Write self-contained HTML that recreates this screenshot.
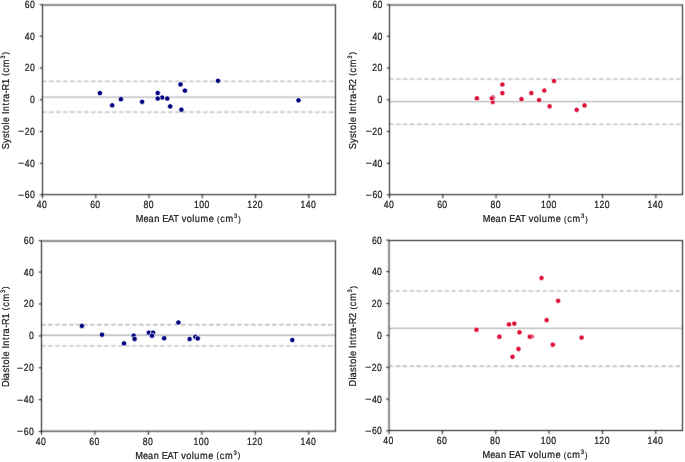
<!DOCTYPE html>
<html><head><meta charset="utf-8"><title>Bland-Altman plots</title>
<style>
html,body{margin:0;padding:0;background:#fff;}
svg{display:block;will-change:transform;}
text{font-family:"Liberation Sans",sans-serif;fill:#1a1a1a;text-rendering:geometricPrecision;}
</style></head>
<body>
<svg width="685" height="462" viewBox="0 0 685 462">
<defs><filter id="bl" x="0" y="0" width="100%" height="100%" filterUnits="userSpaceOnUse"><feConvolveMatrix order="3" kernelMatrix="1 4 1 4 16 4 1 4 1" edgeMode="none"/></filter></defs>
<rect x="0" y="0" width="685" height="462" fill="#fff"/>
<g filter="url(#bl)">
<line x1="42.5" y1="97.15" x2="335.5" y2="97.15" stroke="#b4b4b4" stroke-width="1.3"/>
<line x1="42.5" y1="81.35000000000001" x2="335.5" y2="81.35000000000001" stroke="#b4b4b4" stroke-width="1.3" stroke-dasharray="4.6 2.4" stroke-dashoffset="0.5"/>
<line x1="42.5" y1="112.05000000000001" x2="335.5" y2="112.05000000000001" stroke="#b4b4b4" stroke-width="1.3" stroke-dasharray="4.6 2.4" stroke-dashoffset="0.5"/>
<line x1="389.5" y1="101.65" x2="682.5" y2="101.65" stroke="#b4b4b4" stroke-width="1.3"/>
<line x1="389.5" y1="79.05000000000001" x2="682.5" y2="79.05000000000001" stroke="#b4b4b4" stroke-width="1.3" stroke-dasharray="4.6 2.4" stroke-dashoffset="0.5"/>
<line x1="389.5" y1="124.45" x2="682.5" y2="124.45" stroke="#b4b4b4" stroke-width="1.3" stroke-dasharray="4.6 2.4" stroke-dashoffset="0.5"/>
<line x1="41.5" y1="335.25" x2="335.5" y2="335.25" stroke="#b4b4b4" stroke-width="1.3"/>
<line x1="41.5" y1="324.75" x2="335.5" y2="324.75" stroke="#b4b4b4" stroke-width="1.3" stroke-dasharray="4.6 2.4" stroke-dashoffset="0.5"/>
<line x1="41.5" y1="345.84999999999997" x2="335.5" y2="345.84999999999997" stroke="#b4b4b4" stroke-width="1.3" stroke-dasharray="4.6 2.4" stroke-dashoffset="0.5"/>
<line x1="389.0" y1="328.45" x2="682.5" y2="328.45" stroke="#b4b4b4" stroke-width="1.3"/>
<line x1="389.0" y1="290.95" x2="682.5" y2="290.95" stroke="#b4b4b4" stroke-width="1.3" stroke-dasharray="4.6 2.4" stroke-dashoffset="0.5"/>
<line x1="389.0" y1="366.25" x2="682.5" y2="366.25" stroke="#b4b4b4" stroke-width="1.3" stroke-dasharray="4.6 2.4" stroke-dashoffset="0.5"/>
</g>
<g>
<circle cx="99.9" cy="93.1" r="2.6" fill="#000080" stroke="#fff" stroke-width="0.7"/>
<circle cx="112.2" cy="105.3" r="2.6" fill="#000080" stroke="#fff" stroke-width="0.7"/>
<circle cx="120.9" cy="99.2" r="2.6" fill="#000080" stroke="#fff" stroke-width="0.7"/>
<circle cx="142.1" cy="101.8" r="2.6" fill="#000080" stroke="#fff" stroke-width="0.7"/>
<circle cx="157.7" cy="93.0" r="2.6" fill="#000080" stroke="#fff" stroke-width="0.7"/>
<circle cx="162.2" cy="97.5" r="2.6" fill="#000080" stroke="#fff" stroke-width="0.7"/>
<circle cx="157.7" cy="98.5" r="2.6" fill="#000080" stroke="#fff" stroke-width="0.7"/>
<circle cx="167.3" cy="98.5" r="2.6" fill="#000080" stroke="#fff" stroke-width="0.7"/>
<circle cx="170.2" cy="106.4" r="2.6" fill="#000080" stroke="#fff" stroke-width="0.7"/>
<circle cx="180.5" cy="84.4" r="2.6" fill="#000080" stroke="#fff" stroke-width="0.7"/>
<circle cx="184.9" cy="90.6" r="2.6" fill="#000080" stroke="#fff" stroke-width="0.7"/>
<circle cx="181.4" cy="109.7" r="2.6" fill="#000080" stroke="#fff" stroke-width="0.7"/>
<circle cx="218.0" cy="80.8" r="2.6" fill="#000080" stroke="#fff" stroke-width="0.7"/>
<circle cx="298.5" cy="100.3" r="2.6" fill="#000080" stroke="#fff" stroke-width="0.7"/>
<circle cx="476.9" cy="98.3" r="2.6" fill="#dc143c" stroke="#fff" stroke-width="0.7"/>
<circle cx="492.8" cy="97.3" r="2.6" fill="#dc143c" stroke="#fff" stroke-width="0.7"/>
<circle cx="492.7" cy="101.9" r="2.6" fill="#dc143c" stroke="#fff" stroke-width="0.7"/>
<circle cx="491.9" cy="98.3" r="2.6" fill="#dc143c" stroke="#fff" stroke-width="0.7"/>
<circle cx="502.4" cy="84.5" r="2.6" fill="#dc143c" stroke="#fff" stroke-width="0.7"/>
<circle cx="502.4" cy="93.1" r="2.6" fill="#dc143c" stroke="#fff" stroke-width="0.7"/>
<circle cx="521.5" cy="99.2" r="2.6" fill="#dc143c" stroke="#fff" stroke-width="0.7"/>
<circle cx="531.3" cy="93.1" r="2.6" fill="#dc143c" stroke="#fff" stroke-width="0.7"/>
<circle cx="539.1" cy="100.1" r="2.6" fill="#dc143c" stroke="#fff" stroke-width="0.7"/>
<circle cx="544.3" cy="90.5" r="2.6" fill="#dc143c" stroke="#fff" stroke-width="0.7"/>
<circle cx="549.6" cy="106.3" r="2.6" fill="#dc143c" stroke="#fff" stroke-width="0.7"/>
<circle cx="554.0" cy="81.0" r="2.6" fill="#dc143c" stroke="#fff" stroke-width="0.7"/>
<circle cx="576.7" cy="109.8" r="2.6" fill="#dc143c" stroke="#fff" stroke-width="0.7"/>
<circle cx="584.5" cy="105.4" r="2.6" fill="#dc143c" stroke="#fff" stroke-width="0.7"/>
<circle cx="81.9" cy="325.9" r="2.6" fill="#000080" stroke="#fff" stroke-width="0.7"/>
<circle cx="102.0" cy="334.7" r="2.6" fill="#000080" stroke="#fff" stroke-width="0.7"/>
<circle cx="124.0" cy="343.4" r="2.6" fill="#000080" stroke="#fff" stroke-width="0.7"/>
<circle cx="133.7" cy="335.7" r="2.6" fill="#000080" stroke="#fff" stroke-width="0.7"/>
<circle cx="134.6" cy="338.9" r="2.6" fill="#000080" stroke="#fff" stroke-width="0.7"/>
<circle cx="148.8" cy="332.7" r="2.6" fill="#000080" stroke="#fff" stroke-width="0.7"/>
<circle cx="153.0" cy="332.7" r="2.6" fill="#000080" stroke="#fff" stroke-width="0.7"/>
<circle cx="152.0" cy="335.7" r="2.6" fill="#000080" stroke="#fff" stroke-width="0.7"/>
<circle cx="164.2" cy="338.2" r="2.6" fill="#000080" stroke="#fff" stroke-width="0.7"/>
<circle cx="178.4" cy="322.5" r="2.6" fill="#000080" stroke="#fff" stroke-width="0.7"/>
<circle cx="189.6" cy="339.0" r="2.6" fill="#000080" stroke="#fff" stroke-width="0.7"/>
<circle cx="195.4" cy="336.9" r="2.6" fill="#000080" stroke="#fff" stroke-width="0.7"/>
<circle cx="197.7" cy="338.4" r="2.6" fill="#000080" stroke="#fff" stroke-width="0.7"/>
<circle cx="292.3" cy="340.0" r="2.6" fill="#000080" stroke="#fff" stroke-width="0.7"/>
<circle cx="476.5" cy="329.7" r="2.6" fill="#dc143c" stroke="#fff" stroke-width="0.7"/>
<circle cx="499.4" cy="336.7" r="2.6" fill="#dc143c" stroke="#fff" stroke-width="0.7"/>
<circle cx="509.0" cy="324.4" r="2.6" fill="#dc143c" stroke="#fff" stroke-width="0.7"/>
<circle cx="514.3" cy="323.6" r="2.6" fill="#dc143c" stroke="#fff" stroke-width="0.7"/>
<circle cx="519.5" cy="332.3" r="2.6" fill="#dc143c" stroke="#fff" stroke-width="0.7"/>
<circle cx="531.6" cy="336.5" r="2.6" fill="#dc143c" stroke="#fff" stroke-width="0.7"/>
<circle cx="529.9" cy="336.7" r="2.6" fill="#dc143c" stroke="#fff" stroke-width="0.7"/>
<circle cx="518.5" cy="348.9" r="2.6" fill="#dc143c" stroke="#fff" stroke-width="0.7"/>
<circle cx="512.5" cy="356.8" r="2.6" fill="#dc143c" stroke="#fff" stroke-width="0.7"/>
<circle cx="541.5" cy="278.0" r="2.6" fill="#dc143c" stroke="#fff" stroke-width="0.7"/>
<circle cx="558.1" cy="300.8" r="2.6" fill="#dc143c" stroke="#fff" stroke-width="0.7"/>
<circle cx="546.6" cy="320.1" r="2.6" fill="#dc143c" stroke="#fff" stroke-width="0.7"/>
<circle cx="552.8" cy="344.7" r="2.6" fill="#dc143c" stroke="#fff" stroke-width="0.7"/>
<circle cx="581.6" cy="337.6" r="2.6" fill="#dc143c" stroke="#fff" stroke-width="0.7"/>
</g>
<g filter="url(#bl)">
<rect x="42.5" y="5.0" width="293.00" height="189.60" fill="none" stroke="#111" stroke-width="1.0"/>
<line x1="39.80" y1="194.83" x2="42.5" y2="194.83" stroke="#111" stroke-width="1.0"/>
<line x1="39.80" y1="163.29" x2="42.5" y2="163.29" stroke="#111" stroke-width="1.0"/>
<line x1="39.80" y1="131.52" x2="42.5" y2="131.52" stroke="#111" stroke-width="1.0"/>
<line x1="39.80" y1="99.75" x2="42.5" y2="99.75" stroke="#111" stroke-width="1.0"/>
<line x1="39.80" y1="67.98" x2="42.5" y2="67.98" stroke="#111" stroke-width="1.0"/>
<line x1="39.80" y1="36.21" x2="42.5" y2="36.21" stroke="#111" stroke-width="1.0"/>
<line x1="39.80" y1="4.72" x2="42.5" y2="4.72" stroke="#111" stroke-width="1.0"/>
<line x1="42.50" y1="194.6" x2="42.50" y2="198.20" stroke="#111" stroke-width="1.0"/>
<line x1="95.77" y1="194.6" x2="95.77" y2="198.20" stroke="#111" stroke-width="1.0"/>
<line x1="149.05" y1="194.6" x2="149.05" y2="198.20" stroke="#111" stroke-width="1.0"/>
<line x1="202.32" y1="194.6" x2="202.32" y2="198.20" stroke="#111" stroke-width="1.0"/>
<line x1="255.59" y1="194.6" x2="255.59" y2="198.20" stroke="#111" stroke-width="1.0"/>
<line x1="308.86" y1="194.6" x2="308.86" y2="198.20" stroke="#111" stroke-width="1.0"/>
<rect x="389.5" y="5.0" width="293.00" height="189.60" fill="none" stroke="#111" stroke-width="1.0"/>
<line x1="386.80" y1="194.83" x2="389.5" y2="194.83" stroke="#111" stroke-width="1.0"/>
<line x1="386.80" y1="163.29" x2="389.5" y2="163.29" stroke="#111" stroke-width="1.0"/>
<line x1="386.80" y1="131.52" x2="389.5" y2="131.52" stroke="#111" stroke-width="1.0"/>
<line x1="386.80" y1="99.75" x2="389.5" y2="99.75" stroke="#111" stroke-width="1.0"/>
<line x1="386.80" y1="67.98" x2="389.5" y2="67.98" stroke="#111" stroke-width="1.0"/>
<line x1="386.80" y1="36.21" x2="389.5" y2="36.21" stroke="#111" stroke-width="1.0"/>
<line x1="386.80" y1="4.72" x2="389.5" y2="4.72" stroke="#111" stroke-width="1.0"/>
<line x1="389.50" y1="194.6" x2="389.50" y2="198.20" stroke="#111" stroke-width="1.0"/>
<line x1="442.77" y1="194.6" x2="442.77" y2="198.20" stroke="#111" stroke-width="1.0"/>
<line x1="496.05" y1="194.6" x2="496.05" y2="198.20" stroke="#111" stroke-width="1.0"/>
<line x1="549.32" y1="194.6" x2="549.32" y2="198.20" stroke="#111" stroke-width="1.0"/>
<line x1="602.59" y1="194.6" x2="602.59" y2="198.20" stroke="#111" stroke-width="1.0"/>
<line x1="655.86" y1="194.6" x2="655.86" y2="198.20" stroke="#111" stroke-width="1.0"/>
<rect x="41.5" y="241.0" width="294.00" height="190.20" fill="none" stroke="#111" stroke-width="1.0"/>
<line x1="38.80" y1="431.50" x2="41.5" y2="431.50" stroke="#111" stroke-width="1.0"/>
<line x1="38.80" y1="399.64" x2="41.5" y2="399.64" stroke="#111" stroke-width="1.0"/>
<line x1="38.80" y1="367.75" x2="41.5" y2="367.75" stroke="#111" stroke-width="1.0"/>
<line x1="38.80" y1="335.85" x2="41.5" y2="335.85" stroke="#111" stroke-width="1.0"/>
<line x1="38.80" y1="303.95" x2="41.5" y2="303.95" stroke="#111" stroke-width="1.0"/>
<line x1="38.80" y1="272.06" x2="41.5" y2="272.06" stroke="#111" stroke-width="1.0"/>
<line x1="38.80" y1="240.60" x2="41.5" y2="240.60" stroke="#111" stroke-width="1.0"/>
<line x1="41.50" y1="431.2" x2="41.50" y2="434.80" stroke="#111" stroke-width="1.0"/>
<line x1="94.95" y1="431.2" x2="94.95" y2="434.80" stroke="#111" stroke-width="1.0"/>
<line x1="148.41" y1="431.2" x2="148.41" y2="434.80" stroke="#111" stroke-width="1.0"/>
<line x1="201.86" y1="431.2" x2="201.86" y2="434.80" stroke="#111" stroke-width="1.0"/>
<line x1="255.32" y1="431.2" x2="255.32" y2="434.80" stroke="#111" stroke-width="1.0"/>
<line x1="308.77" y1="431.2" x2="308.77" y2="434.80" stroke="#111" stroke-width="1.0"/>
<rect x="389.0" y="240.5" width="293.50" height="190.00" fill="none" stroke="#111" stroke-width="1.0"/>
<line x1="386.30" y1="430.80" x2="389.0" y2="430.80" stroke="#111" stroke-width="1.0"/>
<line x1="386.30" y1="399.17" x2="389.0" y2="399.17" stroke="#111" stroke-width="1.0"/>
<line x1="386.30" y1="367.28" x2="389.0" y2="367.28" stroke="#111" stroke-width="1.0"/>
<line x1="386.30" y1="335.38" x2="389.0" y2="335.38" stroke="#111" stroke-width="1.0"/>
<line x1="386.30" y1="303.48" x2="389.0" y2="303.48" stroke="#111" stroke-width="1.0"/>
<line x1="386.30" y1="271.59" x2="389.0" y2="271.59" stroke="#111" stroke-width="1.0"/>
<line x1="386.30" y1="240.10" x2="389.0" y2="240.10" stroke="#111" stroke-width="1.0"/>
<line x1="389.00" y1="430.5" x2="389.00" y2="434.10" stroke="#111" stroke-width="1.0"/>
<line x1="442.36" y1="430.5" x2="442.36" y2="434.10" stroke="#111" stroke-width="1.0"/>
<line x1="495.73" y1="430.5" x2="495.73" y2="434.10" stroke="#111" stroke-width="1.0"/>
<line x1="549.09" y1="430.5" x2="549.09" y2="434.10" stroke="#111" stroke-width="1.0"/>
<line x1="602.45" y1="430.5" x2="602.45" y2="434.10" stroke="#111" stroke-width="1.0"/>
<line x1="655.82" y1="430.5" x2="655.82" y2="434.10" stroke="#111" stroke-width="1.0"/>
</g>
<g stroke="#1a1a1a" stroke-width="0.2" stroke-linejoin="round">
<text x="0" y="0" font-size="8.69" transform="matrix(1.216 0 0 0.95 18.09 197.79)">−</text>
<text x="24.81 30.02" y="198.31" font-size="8.69" transform="matrix(1 0 0 1.200 0 -39.66)">60</text>
<text x="0" y="0" font-size="8.69" transform="matrix(1.216 0 0 0.95 18.09 166.25)">−</text>
<text x="24.8 30.02" y="166.77" font-size="8.69" transform="matrix(1 0 0 1.200 0 -33.35)">40</text>
<text x="0" y="0" font-size="8.69" transform="matrix(1.216 0 0 0.95 18.09 134.48)">−</text>
<text x="24.7 30.02" y="135" font-size="8.69" transform="matrix(1 0 0 1.200 0 -27)">20</text>
<text x="30.02" y="103.23" font-size="8.69" transform="matrix(1 0 0 1.200 0 -20.65)">0</text>
<text x="24.7 30.02" y="71.46" font-size="8.69" transform="matrix(1 0 0 1.200 0 -14.29)">20</text>
<text x="24.8 30.02" y="39.69" font-size="8.69" transform="matrix(1 0 0 1.200 0 -7.94)">40</text>
<text x="24.81 30.02" y="8.2" font-size="8.69" transform="matrix(1 0 0 1.200 0 -1.64)">60</text>
<text x="36.87 42.09" y="208.4" font-size="8.69" transform="matrix(1 0 0 1.200 0 -41.68)">40</text>
<text x="90.15 95.36" y="208.4" font-size="8.69" transform="matrix(1 0 0 1.200 0 -41.68)">60</text>
<text x="143.42 148.63" y="208.4" font-size="8.69" transform="matrix(1 0 0 1.200 0 -41.68)">80</text>
<text x="194.04 199.3 204.52" y="208.4" font-size="8.69" transform="matrix(1 0 0 1.200 0 -41.68)">100</text>
<text x="247.31 252.46 257.79" y="208.4" font-size="8.69" transform="matrix(1 0 0 1.200 0 -41.68)">120</text>
<text x="300.58 305.84 311.06" y="208.4" font-size="8.69" transform="matrix(1 0 0 1.200 0 -41.68)">140</text>
<text font-size="9.22" transform="matrix(1 0 0 1.100 0 -22.23)"><tspan x="135.67 143.47 148.52 154.34 159.7 162.14 167.94 173.22 178.74 181.8 186.83 192.3 194.73 200.54 208.81 214.09" y="222.3">Mean EAT volume </tspan><tspan x="216.99" y="221.78" font-size="7.55">(</tspan><tspan x="220.29 225.56" y="222.3">cm</tspan><tspan x="234.01" y="218.75" font-size="5.87">3</tspan><tspan x="238.13" y="221.78" font-size="7.55">)</tspan></text>
<g transform="translate(8.8,100.30) rotate(-90)">
<text font-size="9.22" transform="matrix(1 0 0 1.100 0 0)"><tspan x="-48.89 -42.78 -37.82 -32.86 -29.72 -24.26 -21.87 -16.6 -13.8 -11 -5.24 -1.78 1.19 6.83 9.8 16.23 21.67" y="0">Systole Intra-R1 </tspan><tspan x="24.57" y="-0.52" font-size="7.55">(</tspan><tspan x="27.87 33.14" y="0">cm</tspan><tspan x="41.59" y="-3.55" font-size="5.87">3</tspan><tspan x="45.71" y="-0.52" font-size="7.55">)</tspan></text>
</g>
<text x="0" y="0" font-size="8.69" transform="matrix(1.216 0 0 0.95 365.69 197.79)">−</text>
<text x="372.41 377.62" y="198.31" font-size="8.69" transform="matrix(1 0 0 1.200 0 -39.66)">60</text>
<text x="0" y="0" font-size="8.69" transform="matrix(1.216 0 0 0.95 365.69 166.25)">−</text>
<text x="372.4 377.62" y="166.77" font-size="8.69" transform="matrix(1 0 0 1.200 0 -33.35)">40</text>
<text x="0" y="0" font-size="8.69" transform="matrix(1.216 0 0 0.95 365.69 134.48)">−</text>
<text x="372.3 377.62" y="135" font-size="8.69" transform="matrix(1 0 0 1.200 0 -27)">20</text>
<text x="377.62" y="103.23" font-size="8.69" transform="matrix(1 0 0 1.200 0 -20.65)">0</text>
<text x="372.3 377.62" y="71.46" font-size="8.69" transform="matrix(1 0 0 1.200 0 -14.29)">20</text>
<text x="372.4 377.62" y="39.69" font-size="8.69" transform="matrix(1 0 0 1.200 0 -7.94)">40</text>
<text x="372.41 377.62" y="8.2" font-size="8.69" transform="matrix(1 0 0 1.200 0 -1.64)">60</text>
<text x="383.87 389.09" y="208.3" font-size="8.69" transform="matrix(1 0 0 1.200 0 -41.66)">40</text>
<text x="437.15 442.36" y="208.3" font-size="8.69" transform="matrix(1 0 0 1.200 0 -41.66)">60</text>
<text x="490.42 495.63" y="208.3" font-size="8.69" transform="matrix(1 0 0 1.200 0 -41.66)">80</text>
<text x="541.04 546.3 551.52" y="208.3" font-size="8.69" transform="matrix(1 0 0 1.200 0 -41.66)">100</text>
<text x="594.31 599.46 604.79" y="208.3" font-size="8.69" transform="matrix(1 0 0 1.200 0 -41.66)">120</text>
<text x="647.58 652.84 658.06" y="208.3" font-size="8.69" transform="matrix(1 0 0 1.200 0 -41.66)">140</text>
<text font-size="9.22" transform="matrix(1 0 0 1.100 0 -22.23)"><tspan x="482.67 490.47 495.52 501.34 506.7 509.14 514.94 520.22 525.74 528.8 533.83 539.3 541.73 547.54 555.81 561.09" y="222.3">Mean EAT volume </tspan><tspan x="563.99" y="221.78" font-size="7.55">(</tspan><tspan x="567.29 572.56" y="222.3">cm</tspan><tspan x="581.01" y="218.75" font-size="5.87">3</tspan><tspan x="585.13" y="221.78" font-size="7.55">)</tspan></text>
<g transform="translate(355.9,100.30) rotate(-90)">
<text font-size="9.22" transform="matrix(1 0 0 1.100 0 0)"><tspan x="-48.89 -42.78 -37.82 -32.86 -29.72 -24.26 -21.87 -16.6 -13.8 -11 -5.24 -1.78 1.19 6.83 9.8 16.16 21.67" y="0">Systole Intra-R2 </tspan><tspan x="24.57" y="-0.52" font-size="7.55">(</tspan><tspan x="27.87 33.14" y="0">cm</tspan><tspan x="41.59" y="-3.55" font-size="5.87">3</tspan><tspan x="45.71" y="-0.52" font-size="7.55">)</tspan></text>
</g>
<text x="0" y="0" font-size="8.69" transform="matrix(1.216 0 0 0.95 17.09 434.46)">−</text>
<text x="23.81 29.02" y="434.98" font-size="8.69" transform="matrix(1 0 0 1.200 0 -87)">60</text>
<text x="0" y="0" font-size="8.69" transform="matrix(1.216 0 0 0.95 17.09 402.6)">−</text>
<text x="23.8 29.02" y="403.13" font-size="8.69" transform="matrix(1 0 0 1.200 0 -80.63)">40</text>
<text x="0" y="0" font-size="8.69" transform="matrix(1.216 0 0 0.95 17.09 370.71)">−</text>
<text x="23.7 29.02" y="371.23" font-size="8.69" transform="matrix(1 0 0 1.200 0 -74.25)">20</text>
<text x="29.02" y="339.33" font-size="8.69" transform="matrix(1 0 0 1.200 0 -67.87)">0</text>
<text x="23.7 29.02" y="307.44" font-size="8.69" transform="matrix(1 0 0 1.200 0 -61.49)">20</text>
<text x="23.8 29.02" y="275.54" font-size="8.69" transform="matrix(1 0 0 1.200 0 -55.11)">40</text>
<text x="23.81 29.02" y="244.08" font-size="8.69" transform="matrix(1 0 0 1.200 0 -48.82)">60</text>
<text x="35.87 41.09" y="445.3" font-size="8.69" transform="matrix(1 0 0 1.200 0 -89.06)">40</text>
<text x="89.33 94.54" y="445.3" font-size="8.69" transform="matrix(1 0 0 1.200 0 -89.06)">60</text>
<text x="142.78 148" y="445.3" font-size="8.69" transform="matrix(1 0 0 1.200 0 -89.06)">80</text>
<text x="193.58 198.84 204.06" y="445.3" font-size="8.69" transform="matrix(1 0 0 1.200 0 -89.06)">100</text>
<text x="247.04 252.19 257.52" y="445.3" font-size="8.69" transform="matrix(1 0 0 1.200 0 -89.06)">120</text>
<text x="300.49 305.75 310.97" y="445.3" font-size="8.69" transform="matrix(1 0 0 1.200 0 -89.06)">140</text>
<text font-size="9.22" transform="matrix(1 0 0 1.100 0 -45.89)"><tspan x="135.17 142.97 148.02 153.84 159.2 161.64 167.44 172.72 178.24 181.3 186.33 191.8 194.23 200.04 208.31 213.59" y="458.9">Mean EAT volume </tspan><tspan x="216.49" y="458.38" font-size="7.55">(</tspan><tspan x="219.79 225.06" y="458.9">cm</tspan><tspan x="233.51" y="455.35" font-size="5.87">3</tspan><tspan x="237.63" y="458.38" font-size="7.55">)</tspan></text>
<g transform="translate(8.8,336.60) rotate(-90)">
<text font-size="9.22" transform="matrix(1 0 0 1.100 0 0)"><tspan x="-50.5 -43.57 -41.55 -35.91 -30.96 -27.81 -22.35 -19.97 -14.69 -11.89 -9.09 -3.33 0.13 3.09 8.74 11.71 18.14 23.57" y="0">Diastole Intra-R1 </tspan><tspan x="26.47" y="-0.52" font-size="7.55">(</tspan><tspan x="29.78 35.05" y="0">cm</tspan><tspan x="43.5" y="-3.55" font-size="5.87">3</tspan><tspan x="47.62" y="-0.52" font-size="7.55">)</tspan></text>
</g>
<text x="0" y="0" font-size="8.69" transform="matrix(1.216 0 0 0.95 365.19 433.76)">−</text>
<text x="371.91 377.12" y="434.28" font-size="8.69" transform="matrix(1 0 0 1.200 0 -86.86)">60</text>
<text x="0" y="0" font-size="8.69" transform="matrix(1.216 0 0 0.95 365.19 402.13)">−</text>
<text x="371.9 377.12" y="402.66" font-size="8.69" transform="matrix(1 0 0 1.200 0 -80.53)">40</text>
<text x="0" y="0" font-size="8.69" transform="matrix(1.216 0 0 0.95 365.19 370.24)">−</text>
<text x="371.8 377.12" y="370.76" font-size="8.69" transform="matrix(1 0 0 1.200 0 -74.15)">20</text>
<text x="377.12" y="338.86" font-size="8.69" transform="matrix(1 0 0 1.200 0 -67.77)">0</text>
<text x="371.8 377.12" y="306.97" font-size="8.69" transform="matrix(1 0 0 1.200 0 -61.39)">20</text>
<text x="371.9 377.12" y="275.07" font-size="8.69" transform="matrix(1 0 0 1.200 0 -55.01)">40</text>
<text x="371.91 377.12" y="243.58" font-size="8.69" transform="matrix(1 0 0 1.200 0 -48.72)">60</text>
<text x="383.37 388.59" y="444" font-size="8.69" transform="matrix(1 0 0 1.200 0 -88.8)">40</text>
<text x="436.74 441.95" y="444" font-size="8.69" transform="matrix(1 0 0 1.200 0 -88.8)">60</text>
<text x="490.1 495.32" y="444" font-size="8.69" transform="matrix(1 0 0 1.200 0 -88.8)">80</text>
<text x="540.81 546.07 551.29" y="444" font-size="8.69" transform="matrix(1 0 0 1.200 0 -88.8)">100</text>
<text x="594.17 599.33 604.65" y="444" font-size="8.69" transform="matrix(1 0 0 1.200 0 -88.8)">120</text>
<text x="647.54 652.8 658.02" y="444" font-size="8.69" transform="matrix(1 0 0 1.200 0 -88.8)">140</text>
<text font-size="9.22" transform="matrix(1 0 0 1.100 0 -45.82)"><tspan x="482.42 490.22 495.27 501.09 506.45 508.89 514.69 519.97 525.49 528.55 533.58 539.05 541.48 547.29 555.56 560.84" y="458.2">Mean EAT volume </tspan><tspan x="563.74" y="457.68" font-size="7.55">(</tspan><tspan x="567.04 572.31" y="458.2">cm</tspan><tspan x="580.76" y="454.65" font-size="5.87">3</tspan><tspan x="584.88" y="457.68" font-size="7.55">)</tspan></text>
<g transform="translate(356.2,336.00) rotate(-90)">
<text font-size="9.22" transform="matrix(1 0 0 1.100 0 0)"><tspan x="-50.5 -43.57 -41.55 -35.91 -30.96 -27.81 -22.35 -19.97 -14.69 -11.89 -9.09 -3.33 0.13 3.09 8.74 11.71 18.07 23.57" y="0">Diastole Intra-R2 </tspan><tspan x="26.47" y="-0.52" font-size="7.55">(</tspan><tspan x="29.78 35.05" y="0">cm</tspan><tspan x="43.5" y="-3.55" font-size="5.87">3</tspan><tspan x="47.62" y="-0.52" font-size="7.55">)</tspan></text>
</g>
</g>
</svg>
</body></html>
